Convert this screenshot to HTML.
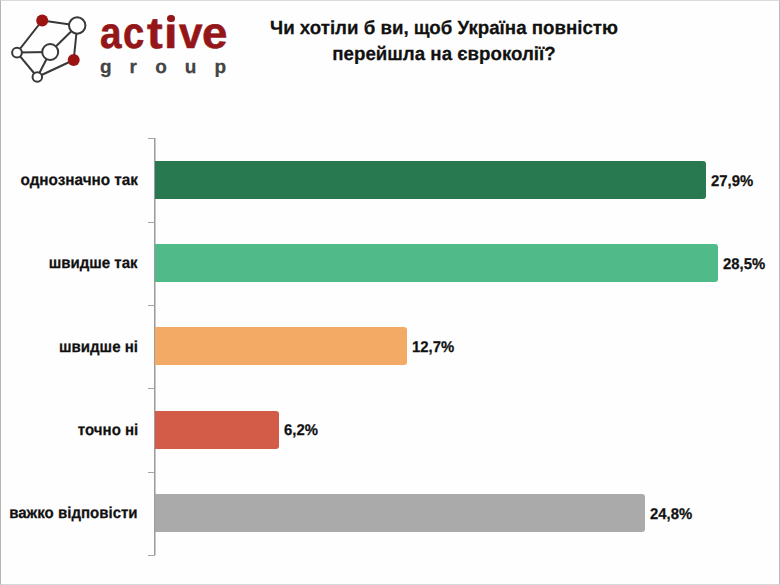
<!DOCTYPE html>
<html><head><meta charset="utf-8">
<style>
html,body{margin:0;padding:0;}
body{text-rendering:geometricPrecision;width:780px;height:585px;position:relative;overflow:hidden;background:#fefefe;font-family:"Liberation Sans",sans-serif;}
.frame{position:absolute;left:0;top:0;width:778px;height:583px;border-left:1px solid #b5b5b5;border-right:1px solid #bababa;border-top:1px solid #dadada;border-bottom:1px solid #d8d8d8;}
.t{position:absolute;white-space:nowrap;font-weight:bold;color:#111;line-height:normal;-webkit-text-stroke-width:0.25px;}
.title{font-size:19px;left:0;width:888px;text-align:center;transform:scaleX(0.984);transform-origin:444px 0;}
.cat{font-size:16px;right:642px;text-align:right;transform:scaleX(0.94);transform-origin:100% 0;}
.val{font-size:15.5px;transform:scaleX(0.96);transform-origin:0 0;}
.bar{position:absolute;left:155px;height:38px;border-radius:0 3px 3px 0;}
.axis{position:absolute;left:154px;top:138px;width:1px;height:417px;background:#9c9c9c;box-shadow:1px 0 0 #c8c8c8;}
.tick{position:absolute;left:148px;width:7px;height:1px;background:#a4a4a4;}
.act{position:absolute;transform-origin:0 0;top:8.6px;font-size:44px;font-weight:bold;color:#941618;line-height:normal;-webkit-text-stroke-width:0.6px;}
</style></head><body>
<div class="frame"></div>

<svg style="position:absolute;left:0;top:0" width="100" height="90" viewBox="0 0 100 90">
 <g stroke="#383838" stroke-width="2" fill="none">
  <line x1="42.2" y1="20.5" x2="77.2" y2="25.5"/>
  <line x1="42.2" y1="20.5" x2="17" y2="52.6"/>
  <line x1="77.2" y1="25.5" x2="50.2" y2="52"/>
  <line x1="77.2" y1="25.5" x2="73.7" y2="60"/>
  <line x1="17" y1="52.6" x2="50.2" y2="52"/>
  <line x1="17" y1="52.6" x2="37.3" y2="77"/>
  <line x1="50.2" y1="52" x2="37.3" y2="77"/>
  <line x1="37.3" y1="77" x2="73.7" y2="60"/>
 </g>
 <g stroke="#383838" stroke-width="2" fill="#fff">
  <circle cx="77.2" cy="25.5" r="8.2"/>
  <circle cx="50.2" cy="52" r="8"/>
  <circle cx="17" cy="52.6" r="4.9"/>
  <circle cx="37.3" cy="77" r="4.75"/>
 </g>
 <g fill="#9c1313">
  <circle cx="42.2" cy="20.5" r="6"/>
  <circle cx="73.7" cy="60" r="6"/>
 </g>
</svg>
<div class="act" style="left:100px;transform:scaleX(0.88);">a</div>
<div class="act" style="left:122.8px;transform:scaleX(0.87);">c</div>
<div class="act" style="left:146.8px;transform:scaleX(1.07);">t</div>
<div class="act" style="left:164.1px;transform:scaleX(1.1);">&#305;</div>
<div class="act" style="left:179.2px;transform:scaleX(0.96);">v</div>
<div class="act" style="left:201.7px;transform:scaleX(1.04);">e</div>
<div style="position:absolute;left:167px;top:14.9px;width:7.6px;height:7.6px;border-radius:50%;background:#941618;"></div>
<div class="t" style="font-size:19px;color:#444;top:57.3px;left:100px;">g</div>
<div class="t" style="font-size:19px;color:#444;top:57.3px;left:129.5px;">r</div>
<div class="t" style="font-size:19px;color:#444;top:57.3px;left:155.2px;">o</div>
<div class="t" style="font-size:19px;color:#444;top:57.3px;left:184.8px;">u</div>
<div class="t" style="font-size:19px;color:#444;top:57.3px;left:214.6px;">p</div>

<div class="t title" style="top:17.6px;">Чи хотіли б ви, щоб Україна повністю</div>
<div class="t title" style="top:44.1px;">перейшла на євроколії?</div>

<div class="axis"></div>
<div class="tick" style="top:138px"></div>
<div class="tick" style="top:221.5px"></div>
<div class="tick" style="top:305px"></div>
<div class="tick" style="top:388px"></div>
<div class="tick" style="top:471.5px"></div>
<div class="tick" style="top:554.5px"></div>

<div class="bar" style="top:161px;width:551px;background:#297950;"></div>
<div class="bar" style="top:244px;width:563px;background:#50bb88;"></div>
<div class="bar" style="top:327px;width:252px;background:#f3aa65;"></div>
<div class="bar" style="top:410.5px;width:124px;background:#d35c48;"></div>
<div class="bar" style="top:494px;width:490px;background:#aaaaaa;"></div>

<div class="t cat" style="top:171.52px;transform:scaleX(0.955);">однозначно так</div>
<div class="t cat" style="top:254.82px;">швидше так</div>
<div class="t cat" style="top:339.12px;">швидше ні</div>
<div class="t cat" style="top:422.42px;">точно ні</div>
<div class="t cat" style="top:504.72px;">важко відповісти</div>

<div class="t val" style="left:711px;top:173.39px;">27,9%</div>
<div class="t val" style="left:723px;top:255.69px;">28,5%</div>
<div class="t val" style="left:412px;top:338.99px;">12,7%</div>
<div class="t val" style="left:284px;top:422.29px;">6,2%</div>
<div class="t val" style="left:650px;top:505.59px;">24,8%</div>
</body></html>
